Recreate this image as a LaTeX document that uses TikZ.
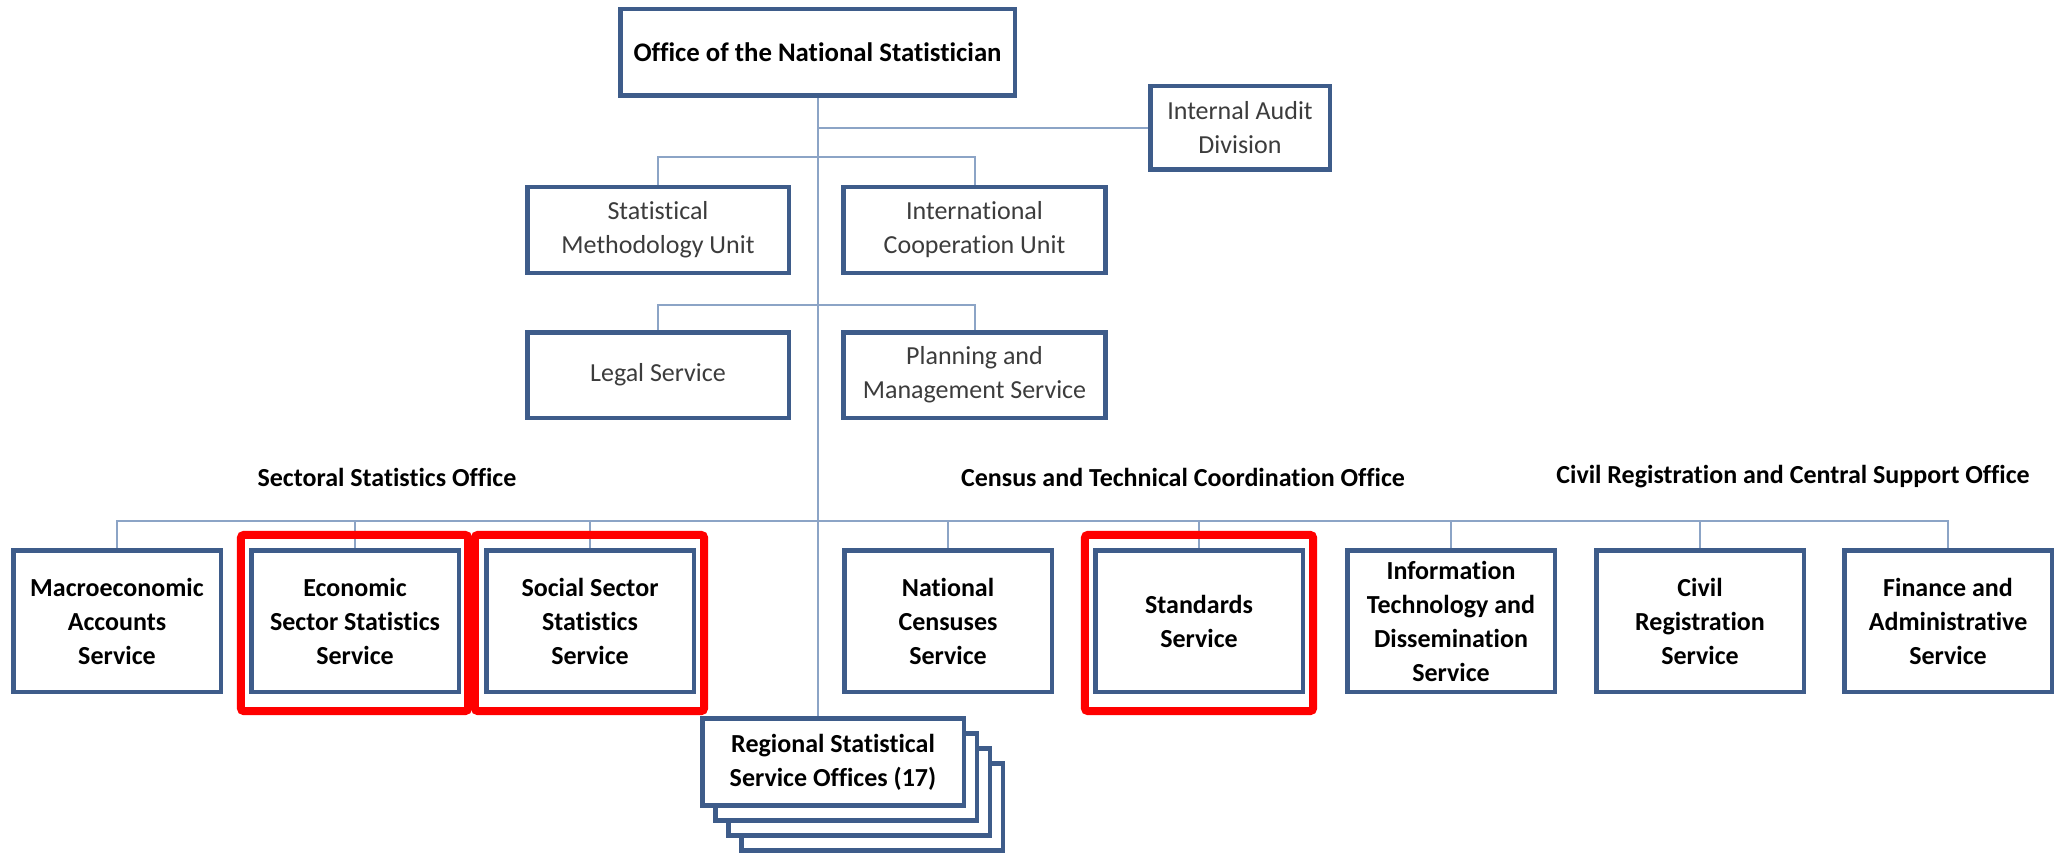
\documentclass[tikz,border=0pt]{standalone}
\usepackage{fontspec}
\setmainfont{Carlito}[Ligatures=NoCommon]
\definecolor{boxblue}{RGB}{62,92,138}
\definecolor{linkblue}{RGB}{140,164,198}
\definecolor{textgray}{RGB}{60,60,60}
\begin{document}
\begin{tikzpicture}[x=0.5pt, y=-0.5pt,
        box/.style={draw=boxblue, line width=2.3pt, fill=white, align=center,
            inner sep=0pt, font=\fontsize{13}{17}\selectfont},
        unitbox/.style={box, text=textgray, minimum width=130.8pt, minimum height=42.8pt},
        servicebox/.style={box, font=\fontsize{13}{17}\selectfont\bfseries,
            minimum width=103.8pt, minimum height=70.8pt},
        regionbox/.style={box, font=\fontsize{13}{17}\selectfont\bfseries,
            minimum width=130.8pt, minimum height=43.3pt},
        officelabel/.style={font=\fontsize{13}{17}\selectfont\bfseries},
        link/.style={draw=linkblue, line width=1pt},
        redframe/.style={draw=red, line width=4pt, rounded corners=1.5pt}]
    \useasboundingbox (0,0) rectangle (2054,861);

    % Direction
    \node[box, font=\fontsize{13.4}{17}\selectfont\bfseries,
        minimum width=197.3pt, minimum height=43.3pt] (top) at (817.5,52.5)
        {Office of the National Statistician};
    \node[unitbox, minimum width=89.8pt, minimum height=41.8pt] (audit) at (1240,128)
        {Internal Audit\\Division};

    % Unidades de apoyo
    \node[unitbox] (stat) at (658,230) {Statistical\\Methodology Unit};
    \node[unitbox] (intl) at (974.5,230) {International\\Cooperation Unit};
    \node[unitbox] (legal) at (658,375) {Legal Service};
    \node[unitbox] (plan) at (974.5,375) {Planning and\\Management Service};

    % Oficinas
    \node[officelabel] (sectoral) at (387,477) {Sectoral Statistics Office};
    \node[officelabel] (censusoff) at (1183,477) {Census and Technical Coordination Office};
    \node[officelabel] (civiloff) at (1793,477) {Civil Registration and Central Support Office};

    % Servicios
    \node[servicebox] (macro) at (117,621) {Macroeconomic\\Accounts\\Service};
    \node[servicebox] (econ) at (355,621) {Economic\\Sector Statistics\\Service};
    \node[servicebox] (social) at (590,621) {Social Sector\\Statistics\\Service};
    \node[servicebox] (census) at (948,621) {National\\Censuses\\Service};
    \node[servicebox] (standards) at (1199,621) {Standards\\Service};
    \node[servicebox] (it) at (1451,621) {Information\\Technology and\\Dissemination\\Service};
    \node[servicebox] (civil) at (1700,621) {Civil\\Registration\\Service};
    \node[servicebox] (finance) at (1948,621) {Finance and\\Administrative\\Service};

    % Oficinas regionales (pila)
    \node[regionbox] (reg3) at (872,807) {};
    \node[regionbox] (reg2) at (859,792) {};
    \node[regionbox] (reg1) at (846,777) {};
    \node[regionbox] (reg) at (833,762) {Regional Statistical\\Service Offices (17)};

    % Conectores
    \coordinate (fork1) at (817.5,157);
    \coordinate (fork2) at (817.5,305);
    \coordinate (bus) at (817.5,521);
    \draw[link] (top.south) -- (top.south |- reg.north);
    \draw[link] (audit.west) -- (audit.west -| top.south);
    \draw[link] (stat.north) |- (fork1) -| (intl.north);
    \draw[link] (legal.north) |- (fork2) -| (plan.north);
    \draw[link] (macro.north) |- (bus) -| (finance.north);
    \foreach \s in {econ,social,census,standards,it,civil}
        \draw[link] (\s.north) -- (\s.north |- bus);

    % Marcos rojos
    \draw[redframe] ([shift={(-8,-13)}]econ.north west) rectangle ([shift={(7,17)}]econ.south east);
    \draw[redframe] ([shift={(-9,-13)}]social.north west) rectangle ([shift={(8,17)}]social.south east);
    \draw[redframe] ([shift={(-8,-13)}]standards.north west) rectangle ([shift={(8,17)}]standards.south east);
\end{tikzpicture}
\end{document}
